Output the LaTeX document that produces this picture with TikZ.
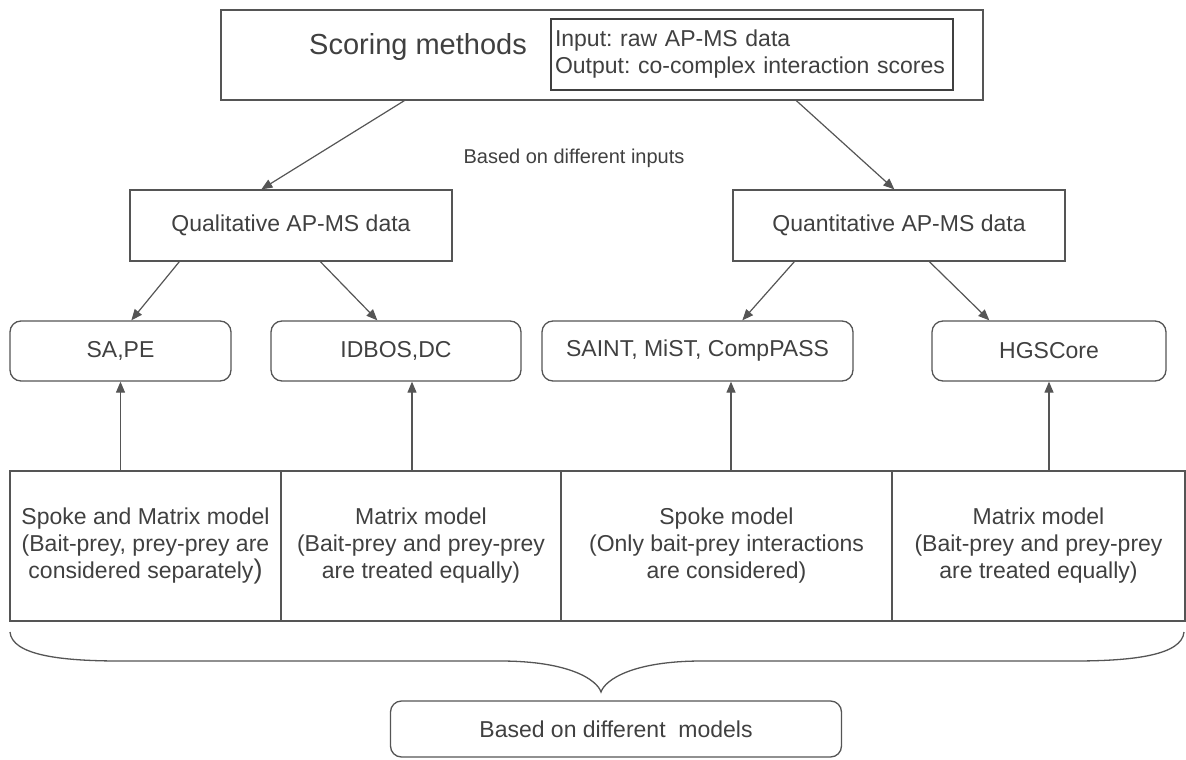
\documentclass[tikz,border=0pt]{standalone}
\usepackage{fontspec}
\setmainfont{Liberation Sans}
\usetikzlibrary{arrows.meta,calc}
\definecolor{ink}{HTML}{404040}
\definecolor{edge}{HTML}{555555}
\tikzset{
  box/.style={draw=edge, line width=1.3pt, inner sep=0pt, align=center, text=ink,
    font=\fontsize{23}{27}\selectfont},
  rbox/.style={box, rounded corners=11pt},
  cell/.style={box, align=center},
  arr/.style={draw=edge, line width=1.2pt, -{Triangle[length=11pt,width=9pt]}},
  brace/.style={draw=edge, line width=1.3pt}
}
\frenchspacing
\begin{document}
\begin{tikzpicture}[x=1pt,y=-1pt]
\useasboundingbox (0,0) rectangle (1186,760);
% title box with its input/output note
\node[box, minimum width=762pt, minimum height=90pt] (top) at (602,55) {};
\node[text=ink, font=\fontsize{29}{33}\selectfont, anchor=center] (title) at (418,47) {Scoring methods};
\node[draw=ink, line width=2pt, minimum width=402pt, minimum height=71pt, inner sep=4pt,
  align=left, text=ink, font=\fontsize{23}{27}\selectfont, text width=394pt] (io) at (752,54.5)
  {Input: raw AP-MS data\\Output: co-complex interaction scores};
\node[text=ink, font=\fontsize{20}{24}\selectfont] (inputs) at (574,158) {Based on different inputs};
% input types
\node[box, minimum width=322pt, minimum height=71pt] (qual) at (291,225.5) {Qualitative AP-MS data};
\node[box, minimum width=332pt, minimum height=71pt] (quant) at (899,225.5) {Quantitative AP-MS data};
% scoring tools
\node[rbox, minimum width=221pt, minimum height=60pt] (sape) at (120.5,351) {SA,PE};
\node[rbox, minimum width=250pt, minimum height=60pt] (idbos) at (396,351) {IDBOS,DC};
\node[rbox, minimum width=311pt, minimum height=60pt] (saint) at (697.5,351) {SAINT, MiST, CompPASS};
\node[rbox, minimum width=234pt, minimum height=60pt] (hgs) at (1049,351) {HGSCore};
% model cells
\node[cell, minimum width=271pt, minimum height=150pt] (m1) at (145.5,546)
  {Spoke and Matrix model\\(Bait-prey, prey-prey are\\considered separately{\fontsize{27}{27}\selectfont)}};
\node[cell, minimum width=280pt, minimum height=150pt] (m2) at (421,546)
  {Matrix model\\(Bait-prey and prey-prey\\are treated equally)};
\node[cell, minimum width=331pt, minimum height=150pt] (m3) at (726.5,546)
  {Spoke model\\(Only bait-prey interactions\\are considered)};
\node[cell, minimum width=293pt, minimum height=150pt] (m4) at (1038.5,546)
  {Matrix model\\(Bait-prey and prey-prey\\are treated equally)};
% model summary
\node[rbox, minimum width=451pt, minimum height=56pt] (models) at (616,729) {Based on different\ \ models};
% connectors
\draw[arr] ([xshift=184pt]top.south west) -- ([xshift=132pt]qual.north west);
\draw[arr] ([xshift=576pt]top.south west) -- ([xshift=162pt]quant.north west);
\draw[arr] ([xshift=50pt]qual.south west) -- ([xshift=122pt]sape.north west);
\draw[arr] ([xshift=191pt]qual.south west) -- ([xshift=107pt]idbos.north west);
\draw[arr] ([xshift=62pt]quant.south west) -- ([xshift=201pt]saint.north west);
\draw[arr] ([xshift=197pt]quant.south west) -- ([xshift=58pt]hgs.north west);
\draw[arr] (m1.north -| sape.south) -- (sape.south);
\draw[arr] ([xshift=-9pt]m2.north) -- ([xshift=16pt]idbos.south);
\draw[arr] ([xshift=4.5pt]m3.north) -- ([xshift=33.5pt]saint.south);
\draw[arr] (m4.north -| hgs.south) -- (hgs.south);
% brace gathering the four models
\coordinate (bl) at (10,632);
\coordinate (br) at (1184,632);
\coordinate (tip) at (601,692);
\draw[brace] (bl) .. controls (12,655) and (60,661) .. (120,661)
  -- (500,661) .. controls (570,661) and (597,680) .. (tip)
  .. controls (605,680) and (632,661) .. (702,661)
  -- (1074,661) .. controls (1134,661) and (1182,655) .. (br);
\end{tikzpicture}
\end{document}
